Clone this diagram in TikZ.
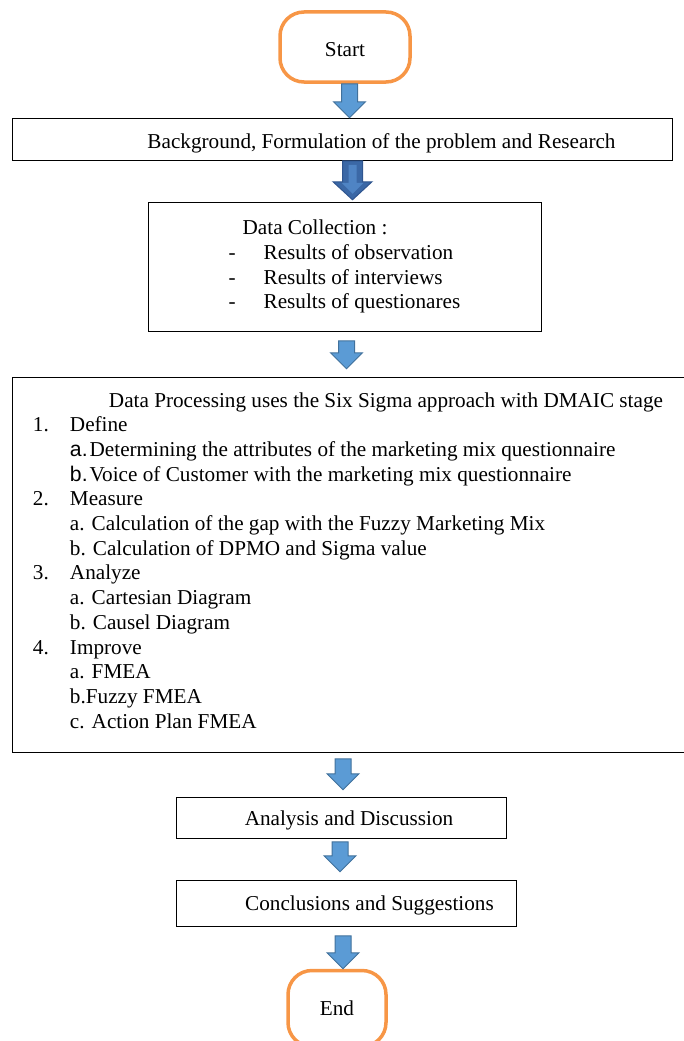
\documentclass[tikz,border=0pt]{standalone}
\usepackage{fontspec}
\setmainfont{Liberation Serif}
\setsansfont{Liberation Sans}
\usetikzlibrary{positioning,calc}

\definecolor{termorange}{HTML}{F79646}
\definecolor{arrowfill}{HTML}{5B9BD5}
\definecolor{arrowline}{HTML}{41719C}
\definecolor{arrowdark}{HTML}{3B68A6}
\definecolor{arrowdarkline}{HTML}{2F558F}
\definecolor{arrowstripe}{HTML}{4F84C4}

% size of the block arrows
\newcommand{\shaftw}{8pt}
\newcommand{\headw}{16pt}
\newcommand{\headl}{16pt}

% extra room above the first line / under the last line of a box
\newcommand{\lastdepth}[1]{\rule[-#1]{0pt}{#1}}
\newcommand{\firstheight}[1]{\rule{0pt}{#1}}

% block arrow from the lower side of #2 to the upper side of #3
% #4: x of its axis, #5 and #6: gaps left above and below
\newcommand{\fatarrow}[6][]{%
  \draw[fatarrow,#1] let \p1=(#2.south), \p2=(#3.north) in
    (#4pt-\shaftw,\y1-#5pt) -- (#4pt+\shaftw,\y1-#5pt)
    -- (#4pt+\shaftw,\y2+#6pt+\headl) -- (#4pt+\headw,\y2+#6pt+\headl)
    -- (#4pt,\y2+#6pt) -- (#4pt-\headw,\y2+#6pt+\headl)
    -- (#4pt-\shaftw,\y2+#6pt+\headl) -- cycle;}

\begin{document}
\begin{tikzpicture}[
  x=1pt, y=-1pt,
  font=\fontsize{21.2pt}{24.7pt}\selectfont,
  box/.style={
    draw,
    line width=1pt,
    inner sep=0pt
  },
  terminal/.style={
    draw=termorange,
    line width=3.5pt,
    rounded corners=24pt,
    minimum width=130pt,
    minimum height=70pt
  },
  fatarrow/.style={fill=arrowfill, draw=arrowline, line width=1pt}
]
\useasboundingbox (0,0) rectangle (683,1041);

\node[terminal] (start) at (345,47) {\firstheight{19pt}Start};

\node[box, minimum width=660pt, minimum height=42pt, below=34pt of start, xshift=-3pt] (bg) {%
  \hspace*{79pt}\firstheight{23pt}Background, Formulation of the problem and Research};

\node[box, minimum width=393pt, minimum height=129pt, align=left, below=41pt of bg, xshift=2.5pt] (collect) {%
  \hspace*{14pt}Data Collection :\\
  \makebox[35pt][l]{-}Results of observation\\
  \makebox[35pt][l]{-}Results of interviews\\
  \makebox[35pt][l]{-}Results of questionares};

\node[box, minimum width=678pt, minimum height=375pt, align=left, below=45pt of collect, xshift=6.5pt] (process) {%
  \hspace*{76pt}Data Processing uses the Six Sigma approach with DMAIC stage\hspace*{6pt}\\
  \makebox[37pt][l]{1.}Define\\
  \hspace*{37pt}{\sffamily a.}\hspace{2pt}Determining the attributes of the marketing mix questionnaire\\
  \hspace*{37pt}{\sffamily b.}\hspace{2pt}Voice of Customer with the marketing mix questionnaire\\
  \makebox[37pt][l]{2.}Measure\\
  \hspace*{37pt}a. Calculation of the gap with the Fuzzy Marketing Mix\\
  \hspace*{37pt}b. Calculation of DPMO and Sigma value\\
  \makebox[37pt][l]{3.}Analyze\\
  \hspace*{37pt}a. Cartesian Diagram\\
  \hspace*{37pt}b. Causel Diagram\\
  \makebox[37pt][l]{4.}Improve\\
  \hspace*{37pt}a. FMEA\\
  \hspace*{37pt}b.Fuzzy FMEA\\
  \hspace*{37pt}c. Action Plan FMEA\lastdepth{9pt}};

\node[box, minimum width=330pt, minimum height=41pt, below=44pt of process, xshift=-10pt] (discuss) {%
  \hspace*{16pt}\firstheight{21pt}Analysis and Discussion};

\node[box, minimum width=340pt, minimum height=46pt, below=41pt of discuss, xshift=5pt] (concl) {%
  \hspace*{47pt}\firstheight{19pt}Conclusions and Suggestions};

\node[terminal, minimum width=98pt, minimum height=76pt, below=42pt of concl, xshift=-9pt] (stop) {End};

% block arrows between the steps
\fatarrow{start}{bg}{349.5}{0}{0}
{\renewcommand{\shaftw}{10pt}\renewcommand{\headw}{19.5pt}\renewcommand{\headl}{18pt}%
 \fatarrow[fill=arrowdark, draw=arrowdarkline]{bg}{collect}{352.5}{0}{2}
 \renewcommand{\shaftw}{4pt}\renewcommand{\headw}{11pt}\renewcommand{\headl}{11pt}%
 \fatarrow[fill=arrowstripe, draw=none]{bg}{collect}{352.5}{4}{8}}
\fatarrow{collect}{process}{346.5}{9}{8}
\fatarrow{process}{discuss}{343}{6}{7}
\fatarrow{discuss}{concl}{340}{3}{8}
\fatarrow{concl}{stop}{343}{9}{0}

\end{tikzpicture}
\end{document}
